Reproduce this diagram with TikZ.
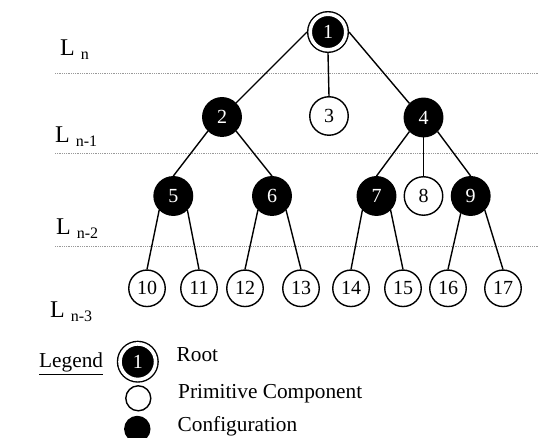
\documentclass[tikz,border=0pt]{standalone}
\usepackage{fontspec}
\setmainfont{Liberation Serif}
\usepackage{tikz}
\usetikzlibrary{positioning, calc}
\newcommand{\lvl}[1]{L\hspace{6pt}\raisebox{-4pt}{\fontsize{16}{16}\selectfont #1}}

\begin{document}
\begin{tikzpicture}[x=1pt, y=-1pt,
  every node/.style={inner sep=0pt, font=\fontsize{20}{20}\selectfont},
  confnode/.style={circle, draw, fill=black, text=white, line width=1.4pt, minimum size=38.5pt},
  primnode/.style={circle, draw, fill=white, line width=1.4pt, minimum size=38.5pt},
  leafnode/.style={primnode, minimum size=36.5pt},
  rootnode/.style={circle, draw, fill=black, text=white, line width=1.4pt, double=white, double distance=3.6pt, minimum size=35.6pt, outer sep=3.2pt},
  levelline/.style={densely dotted, gray!80, line width=0.8pt},
  link/.style={line width=1.4pt},
  lvltext/.style={anchor=base west, font=\fontsize{24}{24}\selectfont},
  legtext/.style={anchor=base west, font=\fontsize{21.3}{21.3}\selectfont}]
  \useasboundingbox (0,0) rectangle (539,438);

  \draw[levelline] (55,73.5) -- (539,73.5);
  \draw[levelline] (55,153.5) -- (539,153.5);
  \draw[levelline] (55,246.5) -- (539,246.5);

  \node[lvltext] (ln) at (60,56) {\lvl{n}};
  \node[lvltext] (ln1) at (55,142.5) {\lvl{n-1}};
  \node[lvltext] (ln2) at (56,235) {\lvl{n-2}};
  \node[lvltext] (ln3) at (50,318) {\lvl{n-3}};

  \node[rootnode] (n1) at (328,32) {1};
  \node[confnode] (n2) at (222,117) {2};
  \node[primnode] (n3) at (329,116) {3};
  \node[confnode] (n4) at (423.5,117.5) {4};
  \node[confnode] (n5) at (173.3,196) {5};
  \node[confnode] (n6) at (272,196) {6};
  \node[confnode] (n7) at (376.5,196) {7};
  \node[primnode] (n8) at (423.5,196) {8};
  \node[confnode] (n9) at (470.7,196) {9};
  \foreach \i/\x in {10/147, 11/199, 12/245, 13/301, 14/351, 15/403, 16/448, 17/503}
    \node[leafnode] (n\i) at (\x,288.3) {\i};

  \draw[link] (n1.west) -- (n2.north east);
  \draw[link] (n1.south) -- (n3.north);
  \draw[link] (n1.east) -- (n4.north west);
  \draw[link] (n4.south) -- (n8.north);
  \foreach \a/\b/\c in {2/5/6, 4/7/9, 5/10/11, 6/12/13, 7/14/15} {
    \draw[link] (n\a.south west) -- (n\b.north);
    \draw[link] (n\a.south east) -- (n\c.north);
  }
  \draw[link] (n9.240) -- (n16.north);
  \draw[link] (n9.south east) -- (n17.north);

  \node[legtext] (legend) at (39,368) {\underline{Legend}};
  \node[rootnode] (legroot) at (137.8,361.7) {1};
  \node[primnode, minimum size=25pt] (legprim) at (138.3,398.3) {};
  \node[confnode, minimum size=25pt] (legconf) at (137.3,429) {};
  \node[legtext] (troot) at (176.5,361.7) {Root};
  \node[legtext] (tprim) at (178,398.3) {Primitive Component};
  \node[legtext] (tconf) at (177.5,431.7) {Configuration};
\end{tikzpicture}
\end{document}
